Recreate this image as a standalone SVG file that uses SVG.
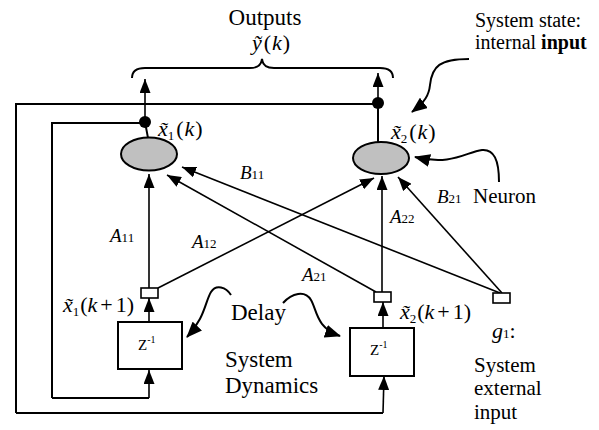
<svg xmlns="http://www.w3.org/2000/svg" width="599" height="430" viewBox="0 0 599 430">
<style>
text{font-family:"Liberation Serif","Times New Roman",serif}
.t23{font-size:23px}.t21{font-size:20px}.m{font-size:22px}.i{font-style:italic}
.ln{stroke:#000;stroke-width:2;fill:none}
.ar{stroke:#000;stroke-width:1.6;fill:none;marker-end:url(#ah)}
.cv{stroke:#000;stroke-width:2;fill:none;marker-end:url(#ah2)}
.neu{fill:#c0c0c0;stroke:#000;stroke-width:2}
.box{fill:#fff;stroke:#000;stroke-width:2}
.sq{fill:#fff;stroke:#000;stroke-width:1.6}
</style>
<defs>
<marker id="ah" viewBox="0 0 14 11" refX="14" refY="5.5" markerWidth="14" markerHeight="11" markerUnits="userSpaceOnUse" orient="auto"><path d="M0,0 L14,5.5 L0,11 z"/></marker>
<marker id="ah2" viewBox="0 0 16 13" refX="15" refY="6.5" markerWidth="16" markerHeight="13" markerUnits="userSpaceOnUse" orient="auto"><path d="M0,0 L16,6.5 L0,13 z"/></marker>
</defs>

<g id="connectors">
<path class="ln" d="M16,413 L16,104 L378,104"/>
<path class="ln" d="M16,413 L383,413"/>
<path class="ln" d="M52,398 L52,123 L145,123"/>
<path class="ln" d="M52,398 L149,398"/>
<line class="ar" x1="149" y1="398" x2="149" y2="370"/>
<line class="ar" x1="383" y1="413" x2="384" y2="376"/>
<line class="ar" x1="149" y1="322" x2="149" y2="298"/>
<line class="ar" x1="383" y1="328" x2="383" y2="302"/>
<line class="ar" x1="145" y1="118" x2="145" y2="79"/>
<line class="ar" x1="378" y1="100" x2="378" y2="73"/>
<line class="ln" x1="145" y1="122" x2="148" y2="138"/>
<line class="ln" x1="378" y1="103" x2="378" y2="142"/>
<line class="ar" x1="149" y1="288" x2="149" y2="174"/>
<line class="ar" x1="158" y1="288" x2="374" y2="178"/>
<line class="ar" x1="376" y1="292" x2="167" y2="175"/>
<line class="ar" x1="382" y1="292" x2="382" y2="176"/>
<line class="ar" x1="500" y1="293" x2="182" y2="167"/>
<line class="ar" x1="502" y1="293" x2="398" y2="177"/>
<circle cx="145" cy="122" r="6"/>
<circle cx="378" cy="103" r="6"/>
<path class="ln" stroke-width="1.6" d="M132,78 C132,71 136,68 145,68 L250,68 C257,68 261,66 262,59 C263,66 267,68 274,68 L380,68 C389,68 393,71 393,78"/>
<path class="cv" d="M469,59 C440,59 432,66 430,85 C429,95 425,102 412,112"/>
<path class="cv" d="M499,182 C499,160 494,149 482,150 C466,152 452,166 415,157"/>
<path class="cv" d="M231,295 C226,287 216,284 211,292 C205,302 205,318 187,337"/>
<path class="cv" d="M283,303 C292,293 305,290 311,300 C317,310 316,328 340,336"/>
</g>

<g id="outputs">
<text class="t23" x="265" y="25" text-anchor="middle">Outputs</text>
<text class="m" x="252" y="50"><tspan class="i">ỹ</tspan><tspan dx="2">(</tspan><tspan class="i" dx="1">k</tspan><tspan dx="1">)</tspan></text>
</g>

<g id="state-note">
<text class="t21" x="475" y="27">System state:</text>
<text class="t21" x="475" y="49">internal <tspan font-weight="bold">input</tspan></text>
</g>

<g id="neuron1">
<ellipse class="neu" cx="149" cy="154" rx="28" ry="16.5"/>
<text class="m" x="158" y="136"><tspan class="i">x̃</tspan><tspan font-size="13" dy="4">1</tspan><tspan dy="-4" dx="2">(</tspan><tspan class="i" dx="1">k</tspan><tspan dx="1">)</tspan></text>
</g>

<g id="neuron2">
<ellipse class="neu" cx="381" cy="158" rx="28" ry="16"/>
<text class="m" x="391" y="139"><tspan class="i">x̃</tspan><tspan font-size="13" dy="4">2</tspan><tspan dy="-4" dx="2">(</tspan><tspan class="i" dx="1">k</tspan><tspan dx="1">)</tspan></text>
</g>

<g id="weights">
<text x="110" y="242" font-size="19"><tspan class="i">A</tspan><tspan font-size="13">11</tspan></text>
<text x="192" y="248" font-size="19"><tspan class="i">A</tspan><tspan font-size="13">12</tspan></text>
<text x="240" y="179" font-size="19"><tspan class="i">B</tspan><tspan font-size="13">11</tspan></text>
<text x="302" y="281" font-size="19"><tspan class="i">A</tspan><tspan font-size="13">21</tspan></text>
<text x="390" y="223" font-size="19"><tspan class="i">A</tspan><tspan font-size="13">22</tspan></text>
<text x="437" y="203" font-size="19"><tspan class="i">B</tspan><tspan font-size="13">21</tspan></text>
</g>

<g id="neuron-note">
<text x="473" y="203" font-size="21">Neuron</text>
</g>

<g id="state1">
<rect class="sq" x="141" y="288" width="17" height="10"/>
<text class="m" x="63" y="312"><tspan class="i">x̃</tspan><tspan font-size="13" dy="4">1</tspan><tspan dy="-4" dx="1">(</tspan><tspan class="i">k</tspan><tspan dx="3">+</tspan><tspan dx="3">1)</tspan></text>
</g>

<g id="state2">
<rect class="sq" x="374" y="292" width="17" height="10"/>
<text class="m" x="400" y="319"><tspan class="i">x̃</tspan><tspan font-size="13" dy="4">2</tspan><tspan dy="-4" dx="1">(</tspan><tspan class="i">k</tspan><tspan dx="3">+</tspan><tspan dx="3">1)</tspan></text>
</g>

<g id="delay1">
<rect class="box" x="118" y="322" width="64" height="47"/>
<text x="138" y="350" font-size="15">Z<tspan font-size="10" dy="-7">-1</tspan></text>
</g>

<g id="delay2">
<rect class="box" x="350" y="328" width="64" height="48"/>
<text x="370" y="355" font-size="15">Z<tspan font-size="10" dy="-7">-1</tspan></text>
</g>

<g id="delay-note">
<text class="t23" x="231" y="320">Delay</text>
<text class="t23" x="225" y="367">System</text>
<text class="t23" x="225" y="393">Dynamics</text>
</g>

<g id="external-input">
<rect class="sq" x="493" y="293" width="17" height="10"/>
<text x="492" y="338" font-size="22"><tspan class="i">g</tspan><tspan font-size="13">1</tspan>:</text>
<text x="474" y="372" font-size="21">System</text>
<text x="474" y="395" font-size="21">external</text>
<text x="474" y="419" font-size="21">input</text>
</g>
</svg>
